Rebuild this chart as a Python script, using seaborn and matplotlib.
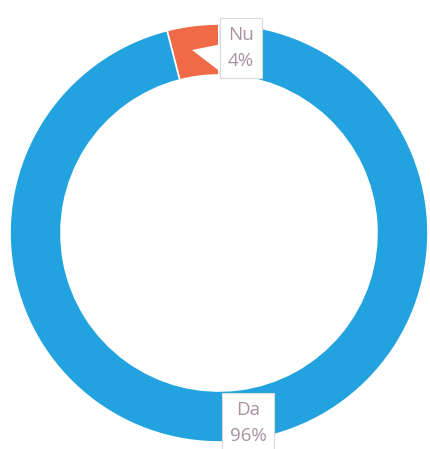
import matplotlib
matplotlib.use("Agg")
import matplotlib.pyplot as plt
from matplotlib.patches import Polygon
import seaborn as sns

labels = ["Nu", "Da"]
shares = [4, 96]
colors = ["#F06A47", "#22A2DE"]

sns.set_theme(style="white")
plt.rcParams["font.family"] = ["Open Sans", "DejaVu Sans"]

W, H = 431, 449
fig = plt.figure(figsize=(W / 100, H / 100), dpi=100)
ax = fig.add_axes([0, 0, 1, 1])

cx, cy, r = 219, 216, 209
ax.pie(shares, colors=colors, startangle=90, counterclock=True,
       center=(cx, cy), radius=r, frame=True,
       wedgeprops=dict(width=51, edgecolor="white", linewidth=1.2))
ax.set_xlim(0, W)
ax.set_ylim(0, H)
ax.set_aspect("equal")
ax.axis("off")

# callout pointer of the small-slice label
ax.add_patch(Polygon([(192, 399), (222, 405), (222, 376)], closed=True,
                     facecolor="white", edgecolor="none", zorder=4))

label_pos = {"Nu": (241, 401), "Da": (248, 26)}
for lab, val in zip(labels, shares):
    x, y = label_pos[lab]
    ax.text(x, y, f"{lab}\n{val}%", ha="center", va="center",
            fontsize=13.5, color="#A8929F", linespacing=1.6, zorder=5,
            bbox=dict(boxstyle="square,pad=0.4", facecolor="white",
                      edgecolor="#DADADA", linewidth=0.8))

fig.savefig("out.png", dpi=100)
